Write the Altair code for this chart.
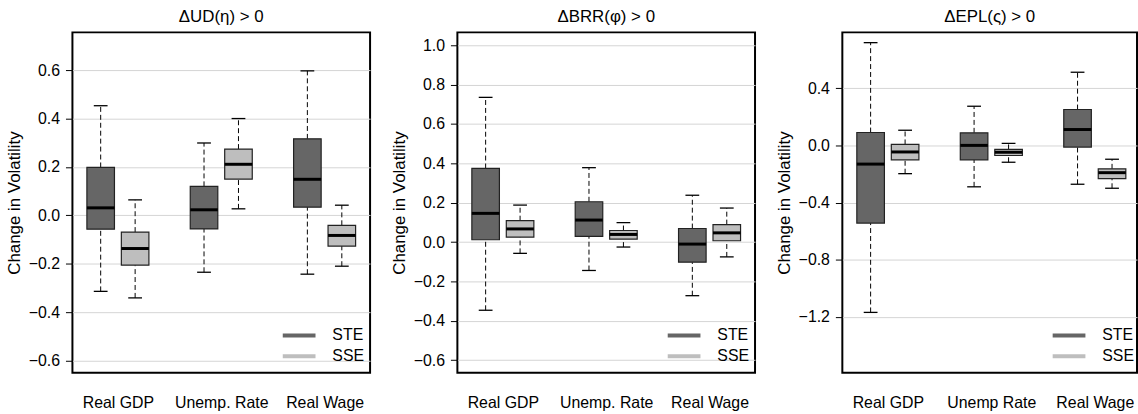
import altair as alt
import pandas as pd

series = ["STE", "SSE"]
series_colors = ["#666666", "#bebebe"]
titles = ["\u0394UD(\u03b7) > 0", "\u0394BRR(\u03c6) > 0", "\u0394EPL(\u03c2) > 0"]
cats_a = ["Real GDP", "Unemp. Rate", "Real Wage"]
cats_b = ["Real GDP", "Unemp Rate", "Real Wage"]

# order: GDP STE, GDP SSE, Unemp STE, Unemp SSE, Wage STE, Wage SSE
p1_lo = [-0.314, -0.341, -0.235, 0.027, -0.243, -0.210]
p1_q1 = [-0.057, -0.206, -0.056, 0.150, 0.034, -0.127]
p1_med = [0.031, -0.137, 0.023, 0.211, 0.149, -0.083]
p1_q3 = [0.198, -0.069, 0.120, 0.274, 0.316, -0.041]
p1_hi = [0.453, 0.064, 0.299, 0.400, 0.597, 0.042]

p2_lo = [-0.346, -0.057, -0.144, -0.025, -0.272, -0.075]
p2_q1 = [0.012, 0.025, 0.029, 0.015, -0.102, 0.007]
p2_med = [0.146, 0.067, 0.112, 0.039, -0.010, 0.047]
p2_q3 = [0.374, 0.109, 0.205, 0.059, 0.069, 0.089]
p2_hi = [0.735, 0.188, 0.378, 0.099, 0.238, 0.173]

p3_lo = [-1.169, -0.198, -0.290, -0.118, -0.272, -0.300]
p3_q1 = [-0.544, -0.101, -0.101, -0.071, -0.012, -0.233]
p3_med = [-0.131, -0.046, 0.000, -0.048, 0.111, -0.191]
p3_q3 = [0.090, 0.007, 0.088, -0.028, 0.251, -0.164]
p3_hi = [0.719, 0.106, 0.274, 0.014, 0.512, -0.097]

y_domains = [[-0.650, 0.756], [-0.663, 1.065], [-1.591, 0.791]]
y_ticks = [[-0.6, -0.4, -0.2, 0.0, 0.2, 0.4, 0.6],
           [-0.6, -0.4, -0.2, 0.0, 0.2, 0.4, 0.6, 0.8, 1.0],
           [-1.2, -0.8, -0.4, 0.0, 0.4]]

FONT = "Liberation Sans"


def make_df(lo, q1, med, q3, hi):
    rows = []
    k = 0
    for i in range(3):
        for j in range(2):
            rows.append(dict(pos=1 + 3 * i + j, series=series[j], lo=lo[k], q1=q1[k],
                             med=med[k], q3=q3[k], hi=hi[k]))
            k += 1
    return pd.DataFrame(rows)


def panel(df, title, cats, ydom, yticks, width, xmax):
    label_expr = (f"datum.value == 1.5 ? '{cats[0]}' : datum.value == 4.5 ? '{cats[1]}' : '{cats[2]}'")
    xscale = alt.Scale(domain=[0.18, xmax], nice=False, zero=False)
    yscale = alt.Scale(domain=ydom, nice=False, zero=False)
    xaxis = alt.Axis(values=[1.5, 4.5, 7.5], labelExpr=label_expr, ticks=False, domain=False,
                     grid=False, labelPadding=22, labelFontSize=16, title=None, labelColor="black")
    yaxis = alt.Axis(values=yticks, format=".1f", tickSize=7, tickColor="black", labelPadding=6,
                     labelFontSize=16, labelColor="black", title="Change in Volatility",
                     titleFontSize=17, titleFontWeight="normal", titleColor="black",
                     grid=True, gridColor="#d4d4d4", gridWidth=1, domain=False,
                     minExtent=44, maxExtent=44, titlePadding=5)
    base = alt.Chart(df).transform_calculate(
        bl="datum.pos - 0.4", br="datum.pos + 0.4", cl="datum.pos - 0.2", cr="datum.pos + 0.2")
    x = alt.X("pos:Q", scale=xscale, axis=xaxis)
    wh_hi = base.mark_rule(color="black", strokeWidth=1, strokeDash=[5, 3]).encode(
        x=x, y=alt.Y("q3:Q", scale=yscale, axis=yaxis), y2="hi:Q")
    wh_lo = base.mark_rule(color="black", strokeWidth=1, strokeDash=[5, 3]).encode(
        x="pos:Q", y="lo:Q", y2="q1:Q")
    cap_hi = base.mark_rule(color="black", strokeWidth=1.3).encode(x="cl:Q", x2="cr:Q", y="hi:Q")
    cap_lo = base.mark_rule(color="black", strokeWidth=1.3).encode(x="cl:Q", x2="cr:Q", y="lo:Q")
    box_fill = base.mark_rule(strokeWidth=27.8, strokeCap="butt").encode(
        x="pos:Q", y="q1:Q", y2="q3:Q",
        color=alt.Color("series:N", scale=alt.Scale(domain=series, range=series_colors),
                        legend=alt.Legend(orient="none", legendX=210, legendY=295, title=None,
                                          symbolType="stroke",
                                          symbolSize=1089, symbolStrokeWidth=4, labelFontSize=16,
                                          labelColor="black", labelOffset=15, padding=0,
                                          rowPadding=0, clipHeight=21)))
    box_line = base.mark_bar(fillOpacity=0, stroke="#222222", strokeWidth=1.2).encode(
        x="bl:Q", x2="br:Q", y="q1:Q", y2="q3:Q")
    med = base.mark_rule(color="black", strokeWidth=3).encode(x="bl:Q", x2="br:Q", y="med:Q")
    return alt.layer(wh_hi, wh_lo, cap_hi, cap_lo, box_fill, box_line, med).properties(
        width=width, height=343,
        title=alt.TitleParams(title, fontSize=17, fontWeight="normal", color="black", offset=6))


p1 = panel(make_df(p1_lo, p1_q1, p1_med, p1_q3, p1_hi), titles[0], cats_a, y_domains[0], y_ticks[0], 300, 8.82)
p2 = panel(make_df(p2_lo, p2_q1, p2_med, p2_q3, p2_hi), titles[1], cats_a, y_domains[1], y_ticks[1], 300, 8.82)
p3 = panel(make_df(p3_lo, p3_q1, p3_med, p3_q3, p3_hi), titles[2], cats_b, y_domains[2], y_ticks[2], 297, 8.724)

chart = alt.hconcat(p1, p2, p3, spacing=19).resolve_scale(
    color="independent", x="independent", y="independent"
).properties(
    padding={"left": 5, "top": 6, "right": 0, "bottom": 0}
).configure(font=FONT).configure_view(stroke="black", strokeWidth=2)

chart.save("out.html", embed_options={"renderer": "svg", "actions": False})
